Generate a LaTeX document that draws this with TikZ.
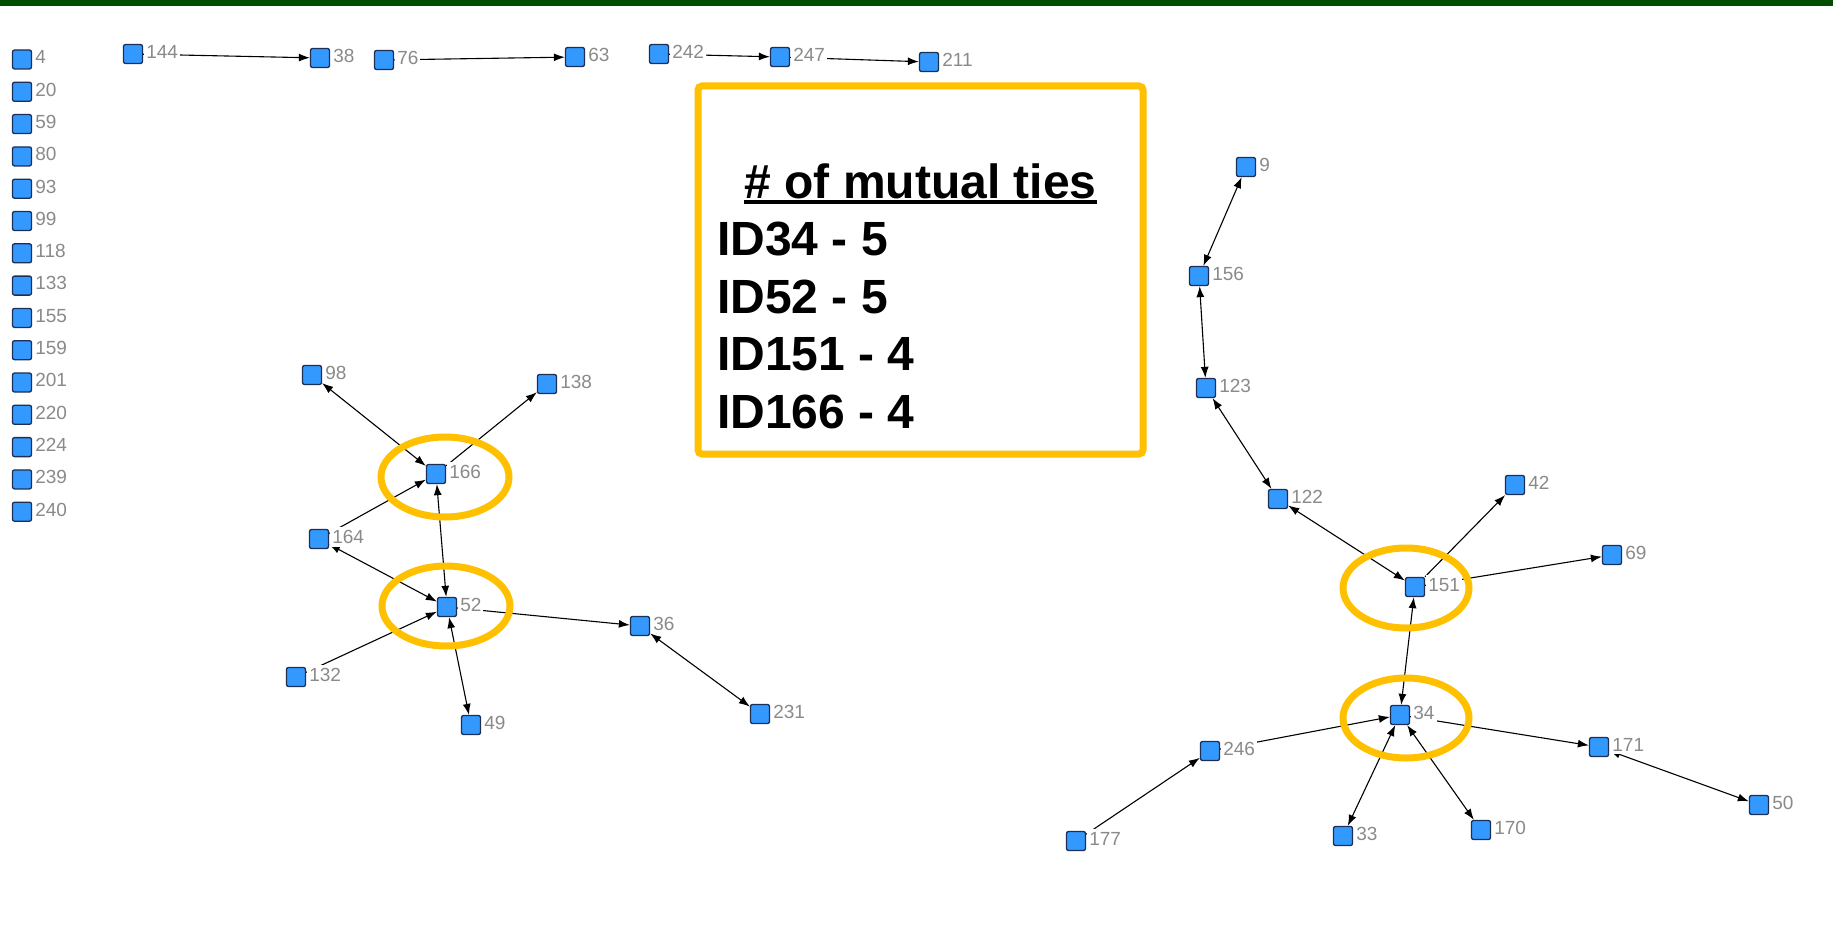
\documentclass[tikz,border=0pt]{standalone}
\usepackage{fontspec}
\setmainfont{Liberation Sans}
\usetikzlibrary{arrows.meta}
\definecolor{barGreen}{HTML}{004D00}
\definecolor{sqFill}{HTML}{3399FF}
\definecolor{sqEdge}{HTML}{1C2F55}
\definecolor{lblGray}{HTML}{8A8A8A}
\definecolor{gold}{HTML}{FFC000}
\pgfdeclarelayer{bglayer}
\pgfdeclarelayer{edgelayer}
\pgfsetlayers{bglayer,edgelayer,main}
\tikzset{
  sq/.style={draw=sqEdge, fill=sqFill, line width=1.3pt, minimum size=19pt,
             inner sep=0pt, rounded corners=2pt},
  lbl/.style={anchor=north west, xshift=1pt, yshift=2pt, fill=white, inner xsep=2pt,
              inner ysep=3pt, text=lblGray, font=\fontsize{19}{22}\selectfont},
  vtx/.style={sq, label={[lbl]north east:#1}},
  tie/.style={line width=1.1pt, black},
  oneway/.style={tie, -{Latex[length=11pt,width=8pt]}},
  mutual/.style={tie, {Latex[length=11pt,width=8pt]}-{Latex[length=11pt,width=8pt]}},
  ring/.style={draw=gold, line width=7pt},
  boxtxt/.style={inner sep=0pt, font=\fontsize{48}{56}\bfseries\selectfont}
}
\begin{document}
\begin{tikzpicture}[x=1pt, y=-1pt]
\begin{pgfonlayer}{bglayer}
  \fill[white] (0,0) rectangle (1833,947);
  \fill[barGreen] (0,0) rectangle (1833,6);
\end{pgfonlayer}
\useasboundingbox (0,0) rectangle (1833,947);

% isolated actors
\foreach \id [count=\i from 0] in {4,20,59,80,93,99,118,133,155,159,201,220,224,239,240}
  \node[vtx=\id] (n\id) at (22, 59.5+32.3*\i) {};

% small chains along the top
\node[vtx=144] (n144) at (133,54) {};
\node[vtx=38]  (n38)  at (320,58) {};
\node[vtx=76]  (n76)  at (384,60) {};
\node[vtx=63]  (n63)  at (575,57) {};
\node[vtx=242] (n242) at (659,54) {};
\node[vtx=247] (n247) at (780,57) {};
\node[vtx=211] (n211) at (929,62) {};

% left component
\node[vtx=98]  (n98)  at (312,375) {};
\node[vtx=138] (n138) at (547,384) {};
\node[vtx=166] (n166) at (436,474) {};
\node[vtx=164] (n164) at (319,539) {};
\node[vtx=52]  (n52)  at (447,607) {};
\node[vtx=132] (n132) at (296,677) {};
\node[vtx=49]  (n49)  at (471,725) {};
\node[vtx=36]  (n36)  at (640,626) {};
\node[vtx=231] (n231) at (760,714) {};

% right component
\node[vtx=9]   (n9)   at (1246,167) {};
\node[vtx=156] (n156) at (1199,276) {};
\node[vtx=123] (n123) at (1206,388) {};
\node[vtx=122] (n122) at (1278,499) {};
\node[vtx=42]  (n42)  at (1515,485) {};
\node[vtx=151] (n151) at (1415,587) {};
\node[vtx=69]  (n69)  at (1612,555) {};
\node[vtx=34]  (n34)  at (1400,715) {};
\node[vtx=246] (n246) at (1210,751) {};
\node[vtx=171] (n171) at (1599,747) {};
\node[vtx=177] (n177) at (1076,841) {};
\node[vtx=33]  (n33)  at (1343,836) {};
\node[vtx=170] (n170) at (1481,830) {};
\node[vtx=50]  (n50)  at (1759,805) {};

\begin{pgfonlayer}{edgelayer}
  \draw[oneway] (n144) -- (n38);
  \draw[oneway] (n76) -- (n63);
  \draw[oneway] (n242) -- (n247);
  \draw[oneway] (n247) -- (n211);

  \draw[mutual] (n98) -- (n166);
  \draw[oneway] (n166) -- (n138);
  \draw[oneway] (n164) -- (n166);
  \draw[mutual] (n166) -- (n52);
  \draw[mutual] (n164) -- (n52);
  \draw[oneway] (n132) -- (n52);
  \draw[mutual] (n52) -- (n49);
  \draw[oneway] (n52) -- (n36);
  \draw[mutual] (n36) -- (n231);

  \draw[mutual] (n9) -- (n156);
  \draw[mutual] (n156) -- (n123);
  \draw[mutual] (n123) -- (n122);
  \draw[mutual] (n122) -- (n151);
  \draw[oneway] (n151) -- (n42);
  \draw[oneway] (n151) -- (n69);
  \draw[mutual] (n151) -- (n34);
  \draw[oneway] (n246) -- (n34);
  \draw[oneway] (n177) -- (n246);
  \draw[mutual] (n34) -- (n33);
  \draw[mutual] (n34) -- (n170);
  \draw[oneway] (n34) -- (n171);
  \draw[mutual] (n171) -- (n50);
\end{pgfonlayer}

% highlighted actors
\draw[ring] (445,477) ellipse [x radius=64, y radius=40];
\draw[ring] (446,606) ellipse [x radius=64, y radius=40];
\draw[ring] (1406,588) ellipse [x radius=63, y radius=40];
\draw[ring] (1406,718) ellipse [x radius=63, y radius=40];

% summary box
\node[draw=gold, line width=7pt, rounded corners=4pt, fill=white,
      minimum width=445pt, minimum height=368pt, inner sep=0pt] (tiebox) at (920.5,270) {};
\node[boxtxt, anchor=base] (title) at (920.5,198) {\# of mutual ties};
\draw[line width=4.5pt] ([yshift=-4pt]title.base west) -- ([yshift=-4pt]title.base east);
\node[boxtxt, anchor=base west] (r34)  at (717,255) {ID34 - 5};
\node[boxtxt, anchor=base west] (r52)  at (717,313) {ID52 - 5};
\node[boxtxt, anchor=base west] (r151) at (717,370) {ID151 - 4};
\node[boxtxt, anchor=base west] (r166) at (717,428) {ID166 - 4};
\end{tikzpicture}
\end{document}
